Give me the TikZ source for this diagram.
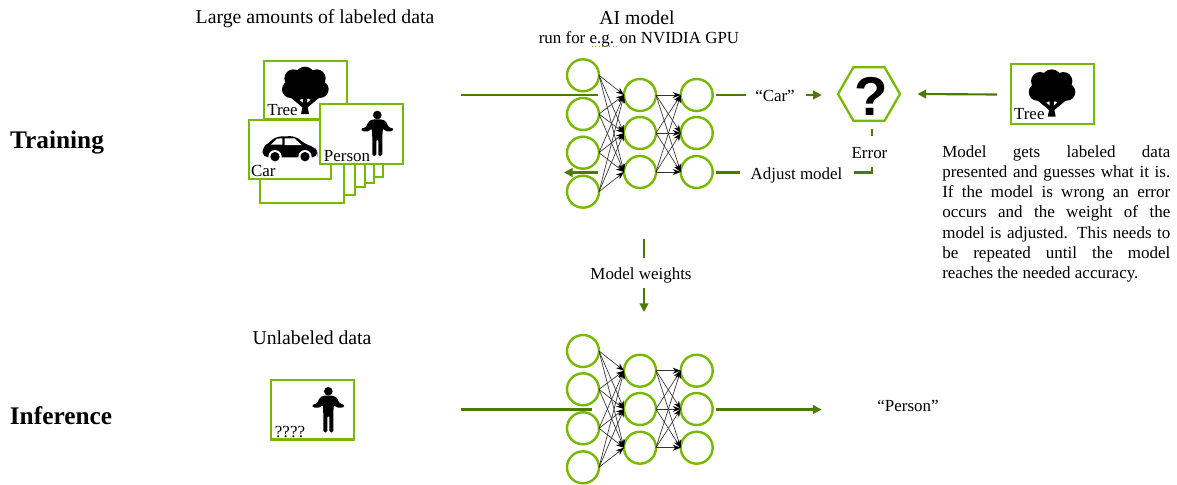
\documentclass[tikz,border=0pt]{standalone}
\usepackage{fontspec}
\setmainfont{Liberation Serif}
\newfontfamily\qsans{Liberation Sans}
\usetikzlibrary{arrows.meta,shapes.geometric}
\definecolor{brightg}{HTML}{76B900}
\definecolor{darkg}{HTML}{4A7A00}
\tikzset{
  x=0.75pt,y=-0.75pt,
  big/.style={inner sep=0pt,font=\fontsize{14.8}{17}\selectfont},
  small/.style={inner sep=0pt,font=\fontsize{12.7}{15}\selectfont},
  head/.style={inner sep=0pt,font=\fontsize{19}{22}\selectfont\bfseries},
  neuron/.style={circle,draw=brightg,line width=1.8pt,minimum size=24pt,inner sep=0pt,outer sep=0pt,fill=white},
  card/.style={rectangle,draw=brightg,line width=1.7pt,fill=white,inner sep=0pt,outer sep=0pt},
  wire/.style={draw=black!80,line width=0.5pt,-{Stealth[length=6pt,width=4.5pt,color=black]}},
  flow/.style={draw=darkg,line width=1.6pt},
  flowa/.style={flow,-{Triangle[length=6.5pt,width=6.5pt,color=darkg]}},
  treeicon/.pic={
    \begin{scope}[scale=1/3]
      \fill (0,-112) circle (30) (-35,-107) circle (27) (35,-107) circle (27)
            (-43,-74) circle (26) (45,-74) circle (26) (0,-82) circle (38) (-20,-62) circle (20) (22,-62) circle (20);
      \fill (-12,0) -- (12,0) -- (8,-20) -- (44,-50) -- (28,-52) -- (6,-33) -- (7,-70) -- (-7,-70) -- (-6,-33) -- (-28,-52) -- (-44,-50) -- (-8,-20) -- cycle;
    \end{scope}},
  personicon/.pic={
    \begin{scope}[scale=1/3]
      \fill (0,-123) circle (13);
      \fill[rounded corners=1.2pt] (-15,0) -- (-3,0) -- (-3,-50) -- (3,-50) -- (3,0) -- (15,0) -- (15,-60) -- (17,-84) -- (24,-74) -- (46,-74) -- (50,-82) -- (34,-86) -- (26,-104) -- (14,-110) -- (-14,-110) -- (-26,-104) -- (-34,-86) -- (-50,-82) -- (-46,-74) -- (-24,-74) -- (-17,-84) -- (-15,-60) -- cycle;
    \end{scope}},
  caricon/.pic={
    \begin{scope}[scale=1/3,shift={(-270,-330)}]
      \fill[rounded corners=4pt] (188,352) -- (187,322) -- (205,310) -- (226,290) -- (286,288) -- (318,314) -- (345,321) -- (352,336) -- (352,352) -- cycle;
      \fill[white] (213,314) -- (231,296) -- (247,295) -- (247,314) -- cycle;
      \fill[white] (254,295) -- (283,295) -- (305,315) -- (254,315) -- cycle;
      \fill[white] (225,350) circle (20) (315,350) circle (20);
      \fill (225,350) circle (14) (315,350) circle (14);
    \end{scope}}
}
\begin{document}
\begin{tikzpicture}
\useasboundingbox (0,0) rectangle (1177,485);
% headings
\node[head] (training) at (57,142.5) {Training};
\node[head] (inference) at (61,415.5) {Inference};
\node[big] (ldata) at (315,18.5) {Large amounts of labeled data};
\node[big] (aimodel) at (637,18) {AI model};
\node[small] (runfor) at (639,39) {run for e.g. on NVIDIA GPU};
\draw[draw=brown!70!orange,line width=0.6pt,dotted] (592,46.5) -- (617,46.5);
\node[big] (unlabeled) at (312,338) {Unlabeled data};
% card stack
\node[card,minimum width=62.2pt,minimum height=43.9pt] (ctree) at (305.2,90.2) {};
\pic at (305,114) {treeicon};
\node[small] (ttree) at (282.5,110) {Tree};
\node[card,minimum width=77.25pt,minimum height=30pt] (s5) at (331.5,157) {};
\node[card,minimum width=74.25pt,minimum height=30pt] (s4) at (324.5,163) {};
\node[card,minimum width=71.25pt,minimum height=30pt] (s3) at (317.5,167) {};
\node[card,minimum width=67.5pt,minimum height=30pt] (s2) at (310,175) {};
\node[card,minimum width=63pt,minimum height=30pt] (s1) at (302,183) {};
\node[card,minimum width=61.5pt,minimum height=44pt] (ccar) at (290,149.5) {};
\pic at (290,150) {caricon};
\node[small] (tcar) at (263.3,171) {Car};
\node[card,minimum width=62.2pt,minimum height=44.5pt] (cperson) at (361.5,134) {};
\pic at (377.3,156) {personicon};
\node[small] (tperson) at (347,156) {Person};
% network 1
\foreach \i/\y in {1/75.3,2/114,3/152.7,4/191.7} \node[neuron] (a\i) at (583,\y) {};
\foreach \i/\y in {1/95,2/133,3/172} {
  \node[neuron] (b\i) at (640,\y) {};
  \node[neuron] (c\i) at (696.7,\y) {};
}
\foreach \i in {1,2,3,4} \foreach \j in {1,2,3} \draw[wire] (a\i.east) -- (b\j.west);
\foreach \i in {1,2,3} \foreach \j in {1,2,3} \draw[wire] (b\i.east) -- (c\j.west);
% network 2
\foreach \i/\y in {1/351,2/389.3,3/428.3,4/467.3} \node[neuron] (d\i) at (583,\y) {};
\foreach \i/\y in {1/370.7,2/409,3/447.7} {
  \node[neuron] (e\i) at (640,\y) {};
  \node[neuron] (f\i) at (696.7,\y) {};
}
\foreach \i in {1,2,3,4} \foreach \j in {1,2,3} \draw[wire] (d\i.east) -- (e\j.west);
\foreach \i in {1,2,3} \foreach \j in {1,2,3} \draw[wire] (e\i.east) -- (f\j.west);
% labels
\node[small] (lcar) at (775,95.5) {“Car”};
\node[small] (ladjust) at (796.5,175) {Adjust model};
\node[small] (lerror) at (869.5,153) {Error};
\node[small] (lweights) at (641,275.5) {Model weights};
\node[small] (lperson) at (908,406) {“Person”};
% hexagon
\node[regular polygon,regular polygon sides=6,draw=brightg,line width=1.7pt,minimum size=46.5pt,inner sep=0pt,outer sep=0pt] (hex) at (869,94) {};
\node[inner sep=0pt,font=\fontsize{41}{41}\selectfont\qsans\bfseries] (qm) at (871,96) {?};
% right card
\node[card,minimum width=62.2pt,minimum height=44.5pt] (ctree2) at (1052.3,94) {};
\pic at (1051.7,116.7) {treeicon};
\node[small] (ttree2) at (1029.3,113.7) {Tree};
% inference card
\node[card,minimum width=62.2pt,minimum height=44.5pt] (cinf) at (312.2,409.7) {};
\pic at (328.3,432.3) {personicon};
\node[small] (tq) at (290,432) {????};
% explanation
\node[inner sep=0pt,anchor=north west,text width=171pt,align=justify,font=\fontsize{12.75}{15.2}\selectfont] (para) at (942,145) {Model gets labeled data\linebreak presented and guesses what it is.\linebreak If the model is wrong an error\linebreak occurs and the weight of the\linebreak model is adjusted. This needs to\linebreak be repeated until the model\linebreak reaches the needed accuracy.};
% free ends
\coordinate (in1) at (461,95);
\coordinate (in1e) at (598,95);
\coordinate (back1) at (598,172.5);
\coordinate (back1e) at (564,172.5);
\coordinate (car1) at (716,95);
\coordinate (car1e) at (746,95);
\coordinate (car2) at (806,95);
\coordinate (car2e) at (821.7,95);
\coordinate (adj1) at (716,172.5);
\coordinate (adj1e) at (740,172.5);
\coordinate (adj2) at (853.7,172.5);
\coordinate (adj2c) at (872,172.5);
\coordinate (adj2e) at (872,166.5);
\coordinate (err1) at (872,129);
\coordinate (err1e) at (872,136);
\coordinate (tr1) at (997,94.5);
\coordinate (tr1e) at (917.5,94);
\coordinate (mw1) at (644,239);
\coordinate (mw1e) at (644,258);
\coordinate (mw2) at (644,288);
\coordinate (mw2e) at (644,312);
\coordinate (in2) at (461,409.5);
\coordinate (in2e) at (592,409.5);
\coordinate (out2) at (716,409.5);
\coordinate (out2e) at (821.5,409.5);
\draw[flow] (in1) -- (in1e);
\draw[flowa] (back1) -- (back1e);
\draw[flow] (car1) -- (car1e);
\draw[flowa] (car2) -- (car2e);
\draw[flow] (adj1) -- (adj1e);
\draw[flow] (adj2) -- (adj2c) -- (adj2e);
\draw[flow] (err1) -- (err1e);
\draw[flowa] (tr1) -- (tr1e);
\draw[flow] (mw1) -- (mw1e);
\draw[flowa] (mw2) -- (mw2e);
\draw[flow] (in2) -- (in2e);
\draw[flowa] (out2) -- (out2e);
\end{tikzpicture}
\end{document}
